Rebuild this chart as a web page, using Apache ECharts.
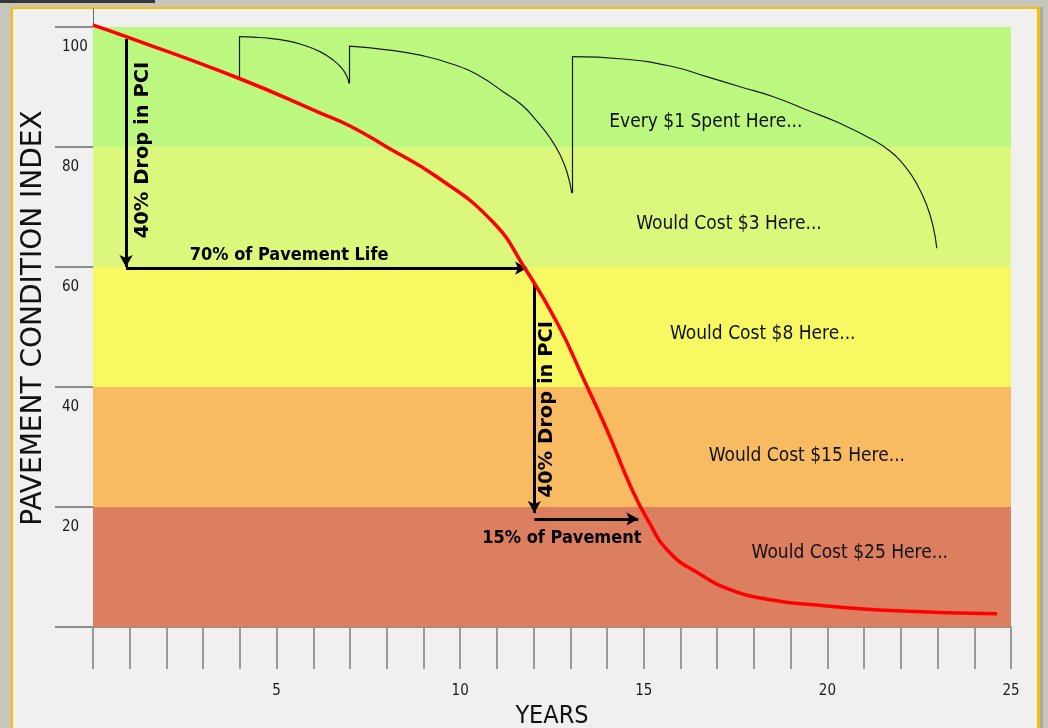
<!DOCTYPE html>
<html>
<head>
<meta charset="utf-8">
<script src="https://cdn.jsdelivr.net/npm/echarts@6/dist/echarts.min.js"></script>
<style>
html, body { margin: 0; padding: 0; background: #c6c6be; overflow: hidden; }
.topbar { position: absolute; left: 0; top: 0; width: 155px; height: 3px; background: #363636; }
.panel {
  position: absolute; left: 11px; top: 7px; width: 1024px; height: 760px;
  background: #f0f0f0; border: 2px solid #f8c000; border-right-width: 3px;
  box-shadow: 3px 0 0 #a9a9a9;
}
#chart { position: absolute; left: 0; top: 0; width: 1048px; height: 728px; }
</style>
</head>
<body>
<div class="topbar"></div>
<div class="panel"></div>
<div id="chart"></div>
<script>
// pavement deterioration curve (years, PCI)
const curveYears = [0, 0.9, 3.95, 6.18, 7.0, 8.0, 9.37, 10.89, 11.74, 12.64, 13.37, 14.0, 14.65, 15.11, 15.69, 16.48, 17.37, 18.49, 19.61, 21.87, 24.62]
const curvePci = [100.3, 98.4, 91.5, 85.7, 83.5, 80.0, 75.0, 67.5, 60.0, 50.7, 41.2, 32.8, 23.3, 17.8, 12.5, 9.0, 6.2, 4.5, 3.7, 2.7, 2.2]

// treatment curves (black)
const t1Years = [3.98, 4.36, 4.82, 5.28, 5.72, 6.18, 6.54, 6.78, 6.92, 6.97]
const t1Pci = [98.4, 98.3, 98.1, 97.7, 97.0, 95.9, 94.5, 93.1, 91.7, 90.6]
const t2Years = [6.97, 8.01, 8.91, 9.8, 10.54, 11.17, 11.68, 12.09, 12.45, 12.72, 12.91, 13.04]
const t2Pci = [96.8, 96.2, 95.3, 93.8, 91.8, 89.2, 87.0, 84.3, 81.5, 78.7, 75.8, 72.3]
const t3Years = [13.05, 14.44, 15.8, 16.71, 17.62, 18.53, 19.44, 20.34, 21.25, 21.7, 22.11, 22.44, 22.71, 22.88, 22.98]
const t3Pci = [95.05, 94.67, 93.38, 91.72, 90.05, 88.38, 86.17, 83.95, 81.17, 79.33, 76.8, 73.8, 70.2, 66.72, 63.12]
const jumpYears = [3.98, 6.97, 13.05]
const jumpFrom = [91.5, 90.6, 72.3]
const jumpTo = [98.4, 96.8, 95.05]

// condition bands
const bandEdges = [0, 20, 40, 60, 80, 100]
const bandColors = ['#dc7e60', '#f8bb61', '#f8f862', '#dbf87c', '#bcf87f']

// axis ticks
const yearLabels = [5, 10, 15, 20, 25]
const pciTicks = [0, 20, 40, 60, 80, 100]
const pciLabels = [20, 40, 60, 80, 100]

// arrows: [fromYear, fromPci, toYear, toPci]
const arrows = [
  [0.9, 98.0, 0.9, 60.0],
  [0.9, 59.8, 11.82, 59.8],
  [12.02, 57.3, 12.02, 19.0],
  [12.02, 18.0, 14.85, 18.0],
]

// notes
const costText = ['Every $1 Spent Here...', 'Would Cost $3 Here...', 'Would Cost $8 Here...', 'Would Cost $15 Here...', 'Would Cost $25 Here...']
const costYear = [16.69, 17.32, 18.24, 19.44, 20.61]
const costPci = [84.1, 67.1, 48.8, 28.5, 12.3]
const lifeText = ['70% of Pavement Life', '15% of Pavement']
const lifeYear = [5.34, 12.77]
const lifePci = [62.0, 14.7]
const dropText = ['40% Drop in PCI', '40% Drop in PCI']
const dropYear = [1.36, 12.36]
const dropPci = [79.5, 36.3]

const FONT = "'DejaVu Sans Condensed', 'Liberation Sans Narrow', 'DejaVu Sans', sans-serif"
const pairs = (xs, ys) => xs.map((x, i) => [x, ys[i]])
const notes = (texts, xs, ys) => texts.map((t, i) => ({ name: t, value: [xs[i], ys[i]] }))

const chart = echarts.init(document.getElementById('chart'))

const arcStyle = { color: '#1a1a1a', width: 1.2 }
const noteBase = { show: true, position: 'inside', formatter: '{b}', opacity: 1, textBorderWidth: 0 }

chart.setOption({
  animation: false,
  grid: { left: 93, right: 37, top: 9, bottom: 101, containLabel: false, outerBoundsMode: 'none' },
  xAxis: {
    type: 'value', min: 0, max: 25, interval: 1,
    name: 'YEARS', nameLocation: 'middle', nameGap: 72,
    nameTextStyle: { fontFamily: FONT, fontSize: 25, color: '#111' },
    axisLine: { lineStyle: { color: '#8c8c8c', width: 2 } },
    axisTick: { length: 42, lineStyle: { color: '#999', width: 2 } },
    axisLabel: { customValues: yearLabels, margin: 57, fontFamily: FONT, fontSize: 15, color: '#1a1a1a' },
    splitLine: { show: false },
  },
  yAxis: {
    type: 'value', min: 0, max: 103, interval: 20,
    name: 'PAVEMENT CONDITION INDEX', nameLocation: 'middle', nameGap: 45,
    nameTextStyle: { fontFamily: 'DejaVu Sans', fontSize: 28, color: '#111' },
    axisLine: { show: true, lineStyle: { color: '#666', width: 1 } },
    axisTick: { customValues: pciTicks, length: 38, lineStyle: { color: '#8c8c8c', width: 2 } },
    axisLabel: {
      customValues: pciLabels, align: 'left', margin: 31, verticalAlign: 'top', padding: [13, 0, 0, 0],
      fontFamily: FONT, fontSize: 15, color: '#1a1a1a',
    },
    splitLine: { show: false },
  },
  series: [
    {
      type: 'line', data: [], z: 1, silent: true,
      markArea: {
        silent: true,
        label: { show: false },
        data: bandColors.map((c, i) => [
          { yAxis: bandEdges[i], itemStyle: { color: c } },
          { yAxis: bandEdges[i + 1] },
        ]),
      },
    },
    {
      type: 'line', data: pairs(curveYears, curvePci), z: 5,
      smooth: 0.5, symbol: 'none', silent: true,
      lineStyle: { color: '#ff0000', width: 3.5 },
    },
    { type: 'line', data: pairs(t1Years, t1Pci), smooth: 0.5, symbol: 'none', silent: true, z: 3, lineStyle: arcStyle },
    { type: 'line', data: pairs(t2Years, t2Pci), smooth: 0.5, symbol: 'none', silent: true, z: 3, lineStyle: arcStyle },
    { type: 'line', data: pairs(t3Years, t3Pci), smooth: 0.5, symbol: 'none', silent: true, z: 3, lineStyle: arcStyle },
    {
      type: 'line', data: [], z: 3, silent: true,
      markLine: {
        silent: true, symbol: ['none', 'none'], label: { show: false },
        lineStyle: { color: '#1a1a1a', width: 1.2, type: 'solid' },
        data: jumpYears.map((x, i) => [{ coord: [x, jumpFrom[i]] }, { coord: [x, jumpTo[i]] }]),
      },
    },
    {
      type: 'line', data: [], z: 4, silent: true,
      markLine: {
        silent: true, symbol: ['none', 'arrow'], symbolSize: [10, 12], label: { show: false },
        lineStyle: { color: '#000', width: 3, type: 'solid' },
        data: arrows.map((a) => [{ coord: [a[0], a[1]] }, { coord: [a[2], a[3]] }]),
      },
    },
    {
      type: 'scatter', data: notes(costText, costYear, costPci), symbolSize: 0, z: 6, silent: true,
      itemStyle: { opacity: 1 },
      label: { ...noteBase, fontFamily: FONT, fontSize: 19, color: '#111' },
    },
    {
      type: 'scatter', data: notes(lifeText, lifeYear, lifePci), symbolSize: 0, z: 6, silent: true,
      itemStyle: { opacity: 1 },
      label: { ...noteBase, fontFamily: FONT, fontWeight: 'bold', fontSize: 18, color: '#000' },
    },
    {
      type: 'scatter', data: notes(dropText, dropYear, dropPci), symbolSize: 0, z: 6, silent: true,
      itemStyle: { opacity: 1 },
      label: { ...noteBase, rotate: 90, fontFamily: 'DejaVu Sans', fontWeight: 'bold', fontSize: 19.5, color: '#000' },
    },
  ],
})
</script>
</body>
</html>
